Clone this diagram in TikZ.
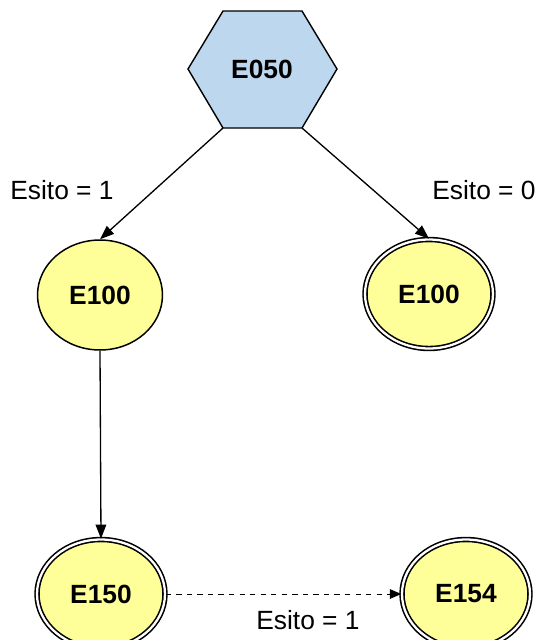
\documentclass[tikz,border=0pt]{standalone}
\usepackage{fontspec}
\setmainfont{Liberation Sans}
\usetikzlibrary{shapes,arrows.meta,positioning}
\definecolor{hexblue}{HTML}{BDD7EE}
\definecolor{stateyellow}{HTML}{FFFF99}

\tikzset{
  state/.style={ellipse, draw=black, line width=0.85pt, fill=stateyellow, inner sep=0pt,
    minimum width=2.5cm, minimum height=2.2cm, font=\fontsize{15}{18}\selectfont\bfseries},
  finalstate/.style={state, double=white, double distance=1.3pt, line width=0.9pt,
    minimum width=2.56cm, minimum height=2.18cm},
  trans/.style={-{Triangle[length=8pt,width=6pt]}, line width=0.75pt},
  esito/.style={font=\fontsize{15}{18}\selectfont}
}

\begin{document}
\begin{tikzpicture}[x=0.02cm, y=-0.02cm]
  \useasboundingbox (0,0) rectangle (537,640);
  \clip (0,0) rectangle (537,640);

  % Start state (hexagon)
  \draw[fill=hexblue, line width=0.8pt] (188,69) -- (223,11) -- (302,11) -- (337,69)
    -- (302,128) coordinate (hbr) -- (223,128) coordinate (hbl) -- cycle;
  \node[font=\fontsize{15}{18}\selectfont\bfseries] (e050) at (262,69) {E050};

  % States
  \node[state] (e100a) at (100,295) {E100};
  \node[finalstate] (e100b) at (429,294) {E100};
  \node[finalstate] (e150) at (101,594) {E150};
  \node[finalstate] (e154) at (466,594) {E154};

  % Transitions
  \draw[trans] (hbl) -- (e100a.north);
  \draw[trans] (hbr) -- (e100b.north);
  \draw[trans] (e100a.south) -- (e150.north);
  \draw[-{Triangle[length=6.5pt,width=5.5pt]}, dashed, line width=0.5pt] (e150.east) -- (e154.west);

  % Labels
  \node[esito] (lbl1) at (62,190) {Esito = 1};
  \node[esito] (lbl0) at (484,190) {Esito = 0};
  \node[esito] (lbl2) at (308,620) {Esito = 1};
\end{tikzpicture}
\end{document}
